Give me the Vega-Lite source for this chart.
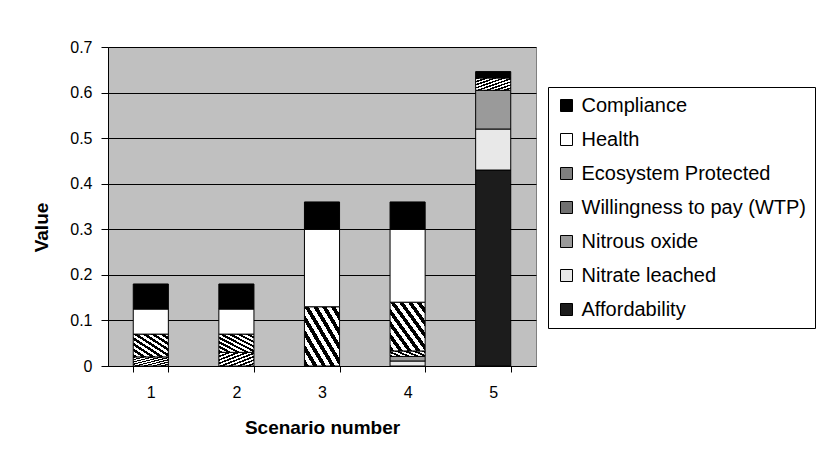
{
  "$schema": "https://vega.github.io/schema/vega-lite/v6.json",
  "autosize": {"type": "none"},
  "padding": {"left": 108, "top": 47, "right": 285, "bottom": 91},
  "width": 428,
  "height": 319,
  "background": "white",
  "config": {
    "font": "Liberation Sans",
    "view": {"fill": "#c0c0c0", "stroke": "#808080", "strokeWidth": 1}
  },
  "data": {
    "values": [
      {"scenario": "1", "component": "Willingness to pay (WTP)", "value": 0.02},
      {"scenario": "1", "component": "Ecosystem Protected", "value": 0.05},
      {"scenario": "1", "component": "Health", "value": 0.055},
      {"scenario": "1", "component": "Compliance", "value": 0.055},
      {"scenario": "2", "component": "Willingness to pay (WTP)", "value": 0.03},
      {"scenario": "2", "component": "Ecosystem Protected", "value": 0.04},
      {"scenario": "2", "component": "Health", "value": 0.055},
      {"scenario": "2", "component": "Compliance", "value": 0.055},
      {"scenario": "3", "component": "Ecosystem Protected", "value": 0.13},
      {"scenario": "3", "component": "Health", "value": 0.17},
      {"scenario": "3", "component": "Compliance", "value": 0.06},
      {"scenario": "4", "component": "Nitrate leached", "value": 0.011},
      {"scenario": "4", "component": "Nitrous oxide", "value": 0.01},
      {"scenario": "4", "component": "Willingness to pay (WTP)", "value": 0.012},
      {"scenario": "4", "component": "Ecosystem Protected", "value": 0.107},
      {"scenario": "4", "component": "Health", "value": 0.16},
      {"scenario": "4", "component": "Compliance", "value": 0.06},
      {"scenario": "5", "component": "Affordability", "value": 0.43},
      {"scenario": "5", "component": "Nitrate leached", "value": 0.09},
      {"scenario": "5", "component": "Nitrous oxide", "value": 0.085},
      {"scenario": "5", "component": "Willingness to pay (WTP)", "value": 0.027},
      {"scenario": "5", "component": "Compliance", "value": 0.014}
    ]
  },
  "transform": [
    {"calculate": "indexof(['Affordability', 'Nitrate leached', 'Nitrous oxide', 'Willingness to pay (WTP)', 'Ecosystem Protected', 'Health', 'Compliance'], datum.component)", "as": "stackRank"}
  ],
  "mark": {"type": "bar", "stroke": "black", "strokeWidth": 1},
  "encoding": {
    "x": {
      "field": "scenario",
      "type": "ordinal",
      "scale": {"paddingInner": 0.59, "paddingOuter": 0.295},
      "axis": {
        "title": "Scenario number",
        "labelAngle": 0,
        "tickBand": "extent",
        "tickSize": 6,
        "tickColor": "black",
        "domainColor": "black",
        "labelColor": "black",
        "labelFontSize": 16,
        "labelPadding": 12,
        "titleFontSize": 19,
        "titleFontWeight": "bold",
        "titleColor": "black",
        "titlePadding": 18,
        "grid": false
      }
    },
    "y": {
      "field": "value",
      "type": "quantitative",
      "stack": "zero",
      "scale": {"domain": [0, 0.7], "nice": false},
      "axis": {
        "title": "Value",
        "values": [0, 0.1, 0.2, 0.3, 0.4, 0.5, 0.6, 0.7],
        "format": ".1~f",
        "grid": true,
        "gridColor": "black",
        "gridOpacity": 1,
        "tickSize": 7,
        "tickColor": "black",
        "domainColor": "black",
        "labelColor": "black",
        "labelFontSize": 16,
        "labelPadding": 9,
        "titleFontSize": 19,
        "titleFontWeight": "bold",
        "titleColor": "black",
        "titlePadding": 18,
        "titleY": 180
      }
    },
    "order": {"field": "stackRank", "type": "quantitative", "sort": "ascending"},
    "color": {
      "condition": [
        {"test": "datum.component === 'Willingness to pay (WTP)'", "value": {"gradient": "linear", "x1": 0, "y1": 0, "x2": 1, "y2": 1, "stops": [
            {"offset": 0, "color": "#000"}, {"offset": 0.0625, "color": "#000"}, {"offset": 0.0625, "color": "#fff"}, {"offset": 0.125, "color": "#fff"},
            {"offset": 0.125, "color": "#000"}, {"offset": 0.1875, "color": "#000"}, {"offset": 0.1875, "color": "#fff"}, {"offset": 0.25, "color": "#fff"},
            {"offset": 0.25, "color": "#000"}, {"offset": 0.3125, "color": "#000"}, {"offset": 0.3125, "color": "#fff"}, {"offset": 0.375, "color": "#fff"},
            {"offset": 0.375, "color": "#000"}, {"offset": 0.4375, "color": "#000"}, {"offset": 0.4375, "color": "#fff"}, {"offset": 0.5, "color": "#fff"},
            {"offset": 0.5, "color": "#000"}, {"offset": 0.5625, "color": "#000"}, {"offset": 0.5625, "color": "#fff"}, {"offset": 0.625, "color": "#fff"},
            {"offset": 0.625, "color": "#000"}, {"offset": 0.6875, "color": "#000"}, {"offset": 0.6875, "color": "#fff"}, {"offset": 0.75, "color": "#fff"},
            {"offset": 0.75, "color": "#000"}, {"offset": 0.8125, "color": "#000"}, {"offset": 0.8125, "color": "#fff"}, {"offset": 0.875, "color": "#fff"},
            {"offset": 0.875, "color": "#000"}, {"offset": 0.9375, "color": "#000"}, {"offset": 0.9375, "color": "#fff"}, {"offset": 1, "color": "#fff"}
          ]}},
        {"test": "datum.component === 'Ecosystem Protected'", "value": {"gradient": "linear", "x1": 0, "y1": 1, "x2": 1, "y2": 0, "stops": [
            {"offset": 0, "color": "#000"}, {"offset": 0.0625, "color": "#000"}, {"offset": 0.0625, "color": "#fff"}, {"offset": 0.125, "color": "#fff"},
            {"offset": 0.125, "color": "#000"}, {"offset": 0.1875, "color": "#000"}, {"offset": 0.1875, "color": "#fff"}, {"offset": 0.25, "color": "#fff"},
            {"offset": 0.25, "color": "#000"}, {"offset": 0.3125, "color": "#000"}, {"offset": 0.3125, "color": "#fff"}, {"offset": 0.375, "color": "#fff"},
            {"offset": 0.375, "color": "#000"}, {"offset": 0.4375, "color": "#000"}, {"offset": 0.4375, "color": "#fff"}, {"offset": 0.5, "color": "#fff"},
            {"offset": 0.5, "color": "#000"}, {"offset": 0.5625, "color": "#000"}, {"offset": 0.5625, "color": "#fff"}, {"offset": 0.625, "color": "#fff"},
            {"offset": 0.625, "color": "#000"}, {"offset": 0.6875, "color": "#000"}, {"offset": 0.6875, "color": "#fff"}, {"offset": 0.75, "color": "#fff"},
            {"offset": 0.75, "color": "#000"}, {"offset": 0.8125, "color": "#000"}, {"offset": 0.8125, "color": "#fff"}, {"offset": 0.875, "color": "#fff"},
            {"offset": 0.875, "color": "#000"}, {"offset": 0.9375, "color": "#000"}, {"offset": 0.9375, "color": "#fff"}, {"offset": 1, "color": "#fff"}
          ]}}
      ],
      "field": "component",
      "type": "nominal",
      "scale": {
        "domain": ["Affordability", "Nitrate leached", "Nitrous oxide", "Willingness to pay (WTP)", "Ecosystem Protected", "Health", "Compliance"],
        "range": ["#1c1c1c", "#e8e8e8", "#9a9a9a", "#707070", "#808080", "#ffffff", "#000000"]
      },
      "legend": {
        "title": null,
        "orient": "none",
        "legendX": 440,
        "legendY": 40,
        "values": ["Compliance", "Health", "Ecosystem Protected", "Willingness to pay (WTP)", "Nitrous oxide", "Nitrate leached", "Affordability"],
        "symbolType": "square",
        "symbolSize": 144,
        "symbolStrokeColor": "black",
        "symbolStrokeWidth": 1,
        "labelFontSize": 20,
        "labelColor": "black",
        "labelOffset": 5,
        "labelLimit": 400,
        "rowPadding": 14,
        "padding": 8.5,
        "strokeColor": "black",
        "fillColor": "white"
      }
    }
  }
}
